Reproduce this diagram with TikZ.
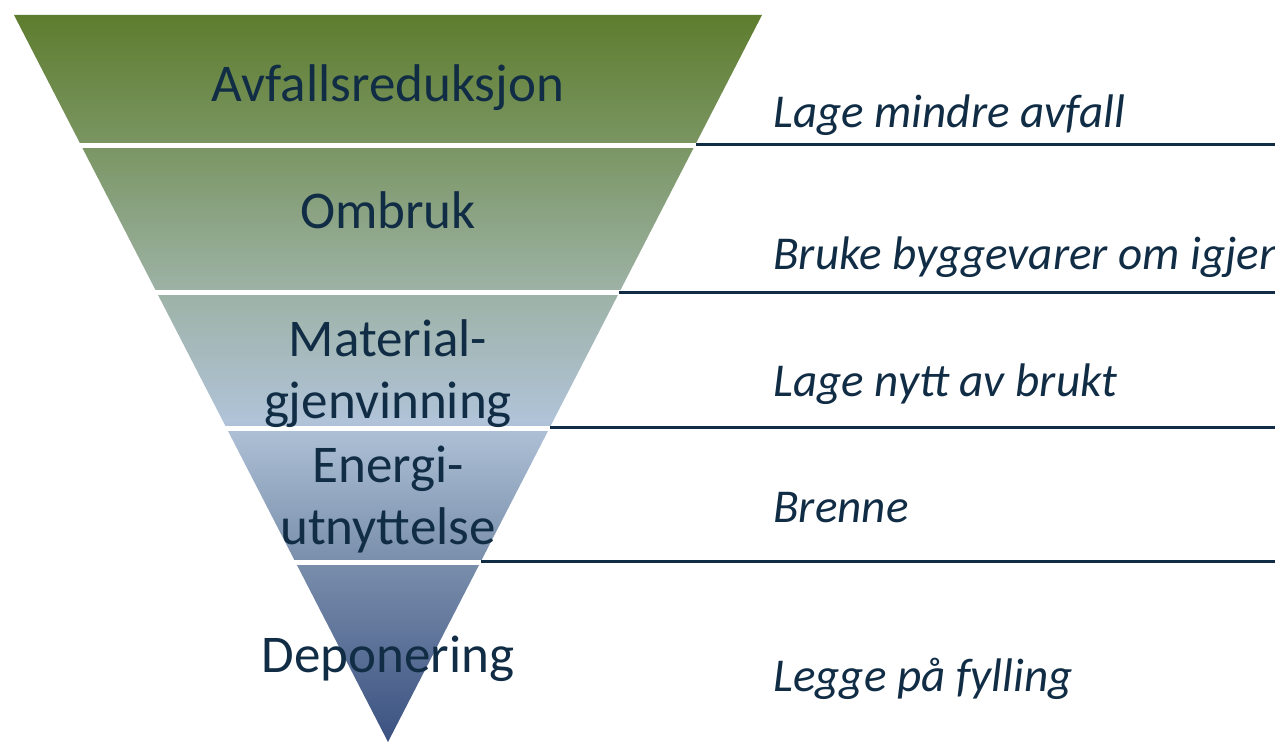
\documentclass[tikz,border=0pt]{standalone}
\usepackage{fontspec}
\setmainfont{Carlito}
\usetikzlibrary{positioning}
\definecolor{ink}{RGB}{17,45,69}
\definecolor{gtop}{RGB}{94,125,46}
\definecolor{gone}{RGB}{122,149,98}
\definecolor{gtwo}{RGB}{157,178,165}
\definecolor{gthree}{RGB}{176,195,216}
\definecolor{gfour}{RGB}{122,143,172}
\definecolor{gbot}{RGB}{59,81,129}
\pgfdeclareverticalshading{pyramid}{100bp}{color(0bp)=(gbot); color(25bp)=(gbot); color(37.5bp)=(gfour); color(47.1bp)=(gthree); color(56.1bp)=(gtwo); color(66.2bp)=(gone); color(75bp)=(gtop); color(100bp)=(gtop)}
\tikzset{
  lvl/.style={font=\fontsize{30.2}{35.5}\selectfont, text=ink, inner sep=0pt, align=center, anchor=base},
  act/.style={font=\fontsize{26.8}{31}\selectfont\itshape, text=ink, inner sep=0pt, anchor=base west},
  rule/.style={draw=ink, line width=0.06cm}
}

\begin{document}
\begin{tikzpicture}[x=0.02cm,y=-0.02cm]
	\useasboundingbox (0,0) rectangle (1275,742);
	\clip (0,0) rectangle (1275,742);
	\shade[shading=pyramid] (14,15) -- (762,15) -- (388,742) -- cycle;
	\foreach \y in {145.5,292.5,428.5,562.5}
		\draw[white,line width=0.1cm] (0,\y) -- (800,\y);
	% levels
	\node[lvl] (avf) at (388,102) {Avfallsreduksjon};
	\node[lvl] (omb) at (388,229) {Ombruk};
	\node[lvl] (mat) at (388,419) {Material-\\gjenvinning};
	\node[lvl] (ene) at (388,545) {Energi-\\utnyttelse};
	\node[lvl] (dep) at (388,673) {Deponering};
	% actions
	\node[act] (lmin) at (773,128) {Lage mindre avfall};
	\node[act] (bruk) at (773,270) {Bruke byggevarer om igjen};
	\node[act] (lnyt) at (773,397) {Lage nytt av brukt};
	\node[act] (bren) at (773,523) {Brenne};
	\node[act] (legg) at (773,692) {Legge på fylling};
	% rules
	\coordinate (e1) at (696,145); \coordinate (r1) at (1275,145);
	\coordinate (e2) at (619,293); \coordinate (r2) at (1275,293);
	\coordinate (e3) at (550,428); \coordinate (r3) at (1275,428);
	\coordinate (e4) at (481,562); \coordinate (r4) at (1275,562);
	\draw[rule] (e1) -- (r1);
	\draw[rule] (e2) -- (r2);
	\draw[rule] (e3) -- (r3);
	\draw[rule] (e4) -- (r4);
\end{tikzpicture}
\end{document}
